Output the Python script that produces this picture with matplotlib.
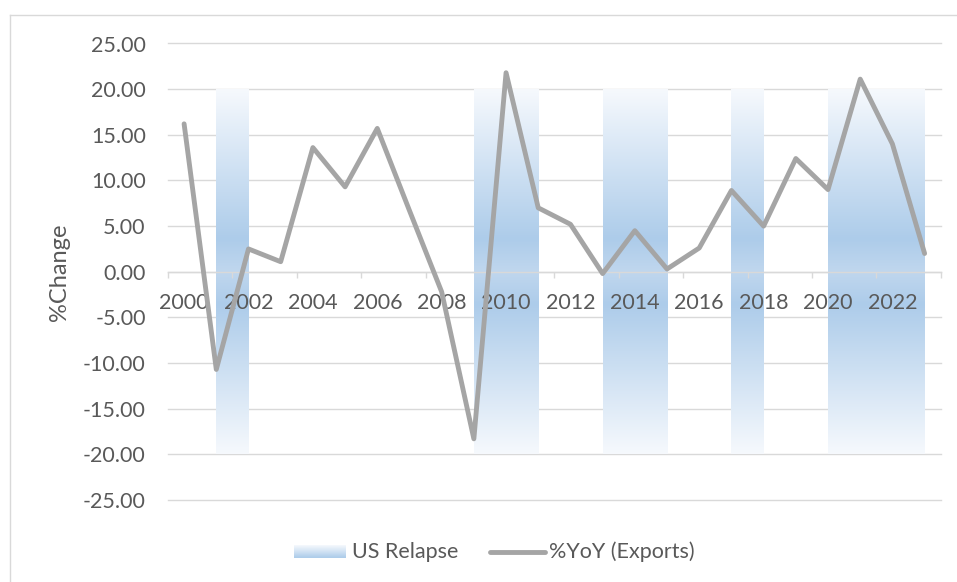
import numpy as np
import matplotlib
matplotlib.use('Agg')
import matplotlib.pyplot as plt
from matplotlib.colors import LinearSegmentedColormap
from matplotlib.lines import Line2D

# 出口年增率 (%YoY) 與美國衰退期間
years = [2000, 2001, 2002, 2003, 2004, 2005, 2006, 2007, 2008, 2009, 2010, 2011,
         2012, 2013, 2014, 2015, 2016, 2017, 2018, 2019, 2020, 2021, 2022, 2023]
yoy_exports = [16.2, -10.7, 2.5, 1.1, 13.6, 9.3, 15.7, 6.7, -2.2, -18.3, 21.8, 7.0,
               5.2, -0.2, 4.5, 0.3, 2.6, 8.9, 5.0, 12.4, 9.0, 21.1, 14.0, 2.0]
relapse_years = [2001, 2009, 2010, 2013, 2014, 2017, 2020, 2021, 2022]
relapse_high = [20, 20, 20, 20, 20, 20, 20, 20, 20]
relapse_low = [-20, -20, -20, -20, -20, -20, -20, -20, -20]
y_ticks = [-25, -20, -15, -10, -5, 0, 5, 10, 15, 20, 25]
x_labels = [2000, 2002, 2004, 2006, 2008, 2010, 2012, 2014, 2016, 2018, 2020, 2022]

GRID = '#D9D9D9'
TEXT = '#595959'
LINE = '#A5A5A5'

plt.rcParams['font.family'] = ['Lato', 'DejaVu Sans']
plt.rcParams['font.size'] = 15.5
plt.rcParams['text.color'] = TEXT

W, H = 957, 582
fig = plt.figure(figsize=(W / 100, H / 100), dpi=100)
ax = fig.add_axes([168 / W, 1 - 500 / H, (940.7 - 168) / W, (500 - 43.5) / H])

# 漸層色：靠近 0 較深，往 ±20 變淡
grad = LinearSegmentedColormap.from_list(
    'relapse', [(0, '#C0D7EE'), (0.18, '#ADCCEA'), (1, '#F6F9FD')])
t = np.linspace(0, 1, 256)

def fill_gradient(bars, upward):
    for p in bars:
        x0 = p.get_x()
        x1 = x0 + p.get_width()
        y0 = p.get_y()
        y1 = y0 + p.get_height()
        lo, hi = min(y0, y1), max(y0, y1)
        col = grad(t[::-1] if upward else t)[:, None, :3]
        im = ax.imshow(col, extent=(x0, x1, lo, hi), origin='upper',
                       aspect='auto', interpolation='bilinear', zorder=2)
        im.set_clip_path(p)

up = ax.bar(relapse_years, relapse_high, width=1, align='edge',
            color='none', edgecolor='none', zorder=2)
down = ax.bar(relapse_years, relapse_low, width=1, align='edge',
              color='none', edgecolor='none', zorder=2)
fill_gradient(up, True)
fill_gradient(down, False)

ax.plot(years, yoy_exports, color=LINE, lw=3.5, zorder=3,
        solid_joinstyle='round', solid_capstyle='round')

ax.set_xlim(1999.5, 2023.5)
ax.set_ylim(-25, 25)

# 軸線與格線
for s in ['top', 'right', 'left']:
    ax.spines[s].set_visible(False)
ax.spines['bottom'].set_position(('data', 0))
ax.spines['bottom'].set_color(GRID)
ax.spines['bottom'].set_linewidth(1)

ax.set_yticks(y_ticks)
ax.set_yticklabels([f'{v:.2f}' for v in y_ticks])
ax.tick_params(axis='y', length=0, pad=16, labelcolor=TEXT)
ax.grid(axis='y', color=GRID, lw=1)
ax.set_axisbelow(True)
for gl in ax.get_ygridlines():
    gl.set_clip_on(False)

ax.set_xticks(np.arange(1999.5, 2024, 2))
ax.set_xticks(x_labels, minor=True)
ax.set_xticklabels([str(y) for y in x_labels], minor=True)
ax.tick_params(axis='x', which='major', length=4.3, width=1, color=GRID,
               direction='out', labelbottom=False)
ax.tick_params(axis='x', which='minor', length=0, pad=15, labelcolor=TEXT)
# 年份標籤要蓋在衰退色塊上面
ax.xaxis.set_zorder(2.6)

fig.text(60 / W, 1 - 272 / H, '%Change', rotation=90, ha='center', va='center',
         fontsize=17)

# 圖例
ly = 1 - 551.5 / H
sw = fig.add_axes([294 / W, 1 - 558 / H, 52 / W, 13 / H])
sw.imshow(grad(np.linspace(1, 0.15, 64))[:, None, :3], aspect='auto',
          interpolation='bilinear')
sw.axis('off')
fig.text(352 / W, ly, 'US Relapse', ha='left', va='center')
fig.add_artist(Line2D([490 / W, 545 / W], [ly, ly], transform=fig.transFigure,
                      color=LINE, lw=3.5, solid_capstyle='round'))
fig.text(549 / W, ly, '%YoY (Exports)', ha='left', va='center')

# 外框
fig.add_artist(Line2D([10 / W, 1], [1 - 15 / H, 1 - 15 / H],
                      transform=fig.transFigure, color=GRID, lw=1))
fig.add_artist(Line2D([10 / W, 10 / W], [0, 1 - 15 / H],
                      transform=fig.transFigure, color=GRID, lw=1))

fig.savefig('out.png', dpi=100)
